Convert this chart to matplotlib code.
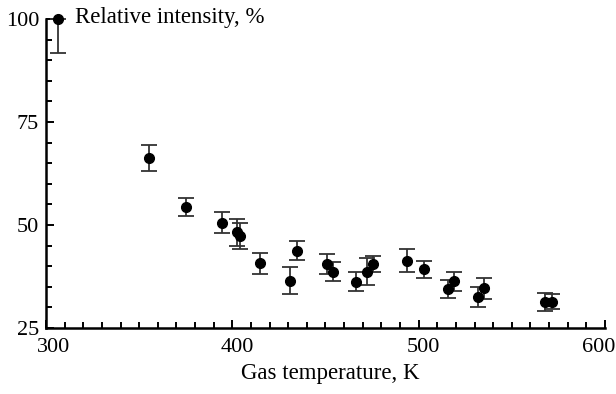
import matplotlib
matplotlib.use("Agg")
import matplotlib.pyplot as plt
from matplotlib.ticker import MultipleLocator
from matplotlib.transforms import ScaledTranslation

plt.rcParams['font.family'] = ['Liberation Serif', 'DejaVu Serif']

# ----------------------------- DATA -----------------------------
temperature = [306.5, 355.5, 375.0, 394.3, 402.5, 404.0, 414.9, 431.0, 434.9,
               450.7, 454.2, 466.4, 472.1, 475.3, 493.6, 502.9, 515.6, 519.0,
               532.1, 535.1, 567.8, 571.4]
intensity = [100, 66.2, 54.3, 50.6, 48.2, 47.4, 40.7, 36.5, 43.8,
             40.5, 38.7, 36.2, 38.7, 40.5, 41.3, 39.2, 34.4, 36.4,
             32.5, 34.6, 31.4, 31.4]
err_low = [8.2, 3.2, 2.2, 2.6, 3.3, 3.2, 2.6, 3.3, 2.2,
           2.4, 2.2, 2.3, 3.2, 1.9, 2.8, 2.1, 2.2, 2.3,
           2.4, 2.5, 2.2, 1.8]
err_high = [0.0, 3.2, 2.2, 2.6, 3.3, 3.2, 2.6, 3.3, 2.2,
            2.4, 2.2, 2.3, 3.2, 1.9, 2.8, 2.1, 2.2, 2.3,
            2.4, 2.5, 2.2, 1.8]

x_ticks = [300, 400, 500, 600]
y_ticks = [25, 50, 75, 100]

# ----------------------------- PLOT -----------------------------
fig = plt.figure(figsize=(6.16, 3.94), dpi=100)
ax = fig.add_axes([0.0747, 0.1675, 0.9073, 0.7845])

eb = ax.errorbar(temperature, intensity, yerr=[err_low, err_high], fmt='o',
                 color='black', ecolor='#333333', markersize=7, elinewidth=1.3,
                 capsize=6, capthick=1.3)
eb.lines[0].set_clip_on(False)
for artist in list(eb.lines[1]) + list(eb.lines[2]):
    artist.set_clip_on(False)

ax.set_xlim(300, 600)
ax.set_ylim(25, 100)
ax.set_xticks(x_ticks)
ax.set_yticks(y_ticks)
ax.xaxis.set_minor_locator(MultipleLocator(10))
ax.yaxis.set_minor_locator(MultipleLocator(5))

for side in ['top', 'right']:
    ax.spines[side].set_visible(False)
for side in ['left', 'bottom']:
    ax.spines[side].set_linewidth(1.8)

ax.tick_params(which='major', direction='in', length=6, width=1.4, labelsize=16, pad=7)
ax.tick_params(which='minor', direction='in', length=4, width=1.4)
ax.tick_params(axis='y', which='major', pad=5)

# nudge x tick labels like the original layout
fig.canvas.draw()
x_shift_px = [8, 5, 5, -6]
for lab, dx in zip(ax.get_xticklabels(), x_shift_px):
    lab.set_transform(lab.get_transform() + ScaledTranslation(dx / 100, 0, fig.dpi_scale_trans))

fig.text(75 / 616, 1 - 18 / 394, 'Relative intensity, %', fontsize=16.5,
         ha='left', va='center')
fig.text(330 / 616, 1 - 374 / 394, 'Gas temperature, K', fontsize=16.5,
         ha='center', va='center')

fig.savefig('out.png', dpi=100)
